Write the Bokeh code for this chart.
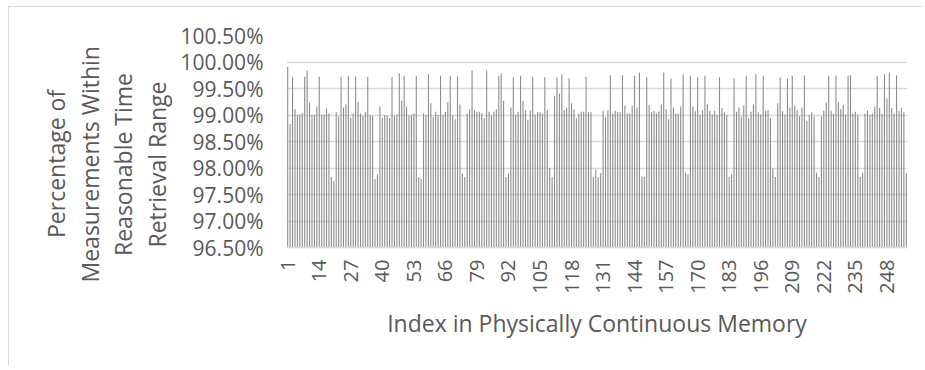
import math
from bokeh.plotting import figure
from bokeh.models import ColumnDataSource, FixedTicker, NumeralTickFormatter, Range1d, Title
from bokeh.embed import file_html
from bokeh.resources import INLINE

# Percentage of measurements within reasonable time retrieval range, per index (in %)
retrieval_pct = [
    99.91, 98.83, 99.71, 99.11, 99.00, 99.01, 99.04, 99.72, 99.84, 99.23,
    99.00, 99.01, 99.16, 99.72, 99.01, 99.01, 99.12, 99.03, 97.83, 97.75,
    99.05, 98.97, 99.72, 99.14, 99.20, 99.74, 98.95, 99.03, 99.72, 99.25,
    99.03, 98.98, 99.06, 99.72, 99.00, 98.98, 97.79, 97.88, 99.16, 98.94,
    99.00, 98.98, 98.94, 99.71, 98.98, 99.01, 99.79, 99.27, 99.74, 99.16,
    98.99, 99.00, 99.03, 99.74, 97.83, 97.80, 99.03, 99.00, 99.77, 99.22,
    98.96, 99.06, 99.00, 99.74, 99.00, 99.06, 99.24, 99.74, 99.00, 98.92,
    99.72, 99.20, 97.90, 97.83, 99.03, 99.11, 99.84, 99.09, 99.06, 99.06,
    99.04, 98.94, 99.84, 99.06, 98.99, 99.06, 99.11, 99.74, 99.79, 99.27,
    97.83, 97.90, 99.14, 99.71, 99.00, 99.06, 99.74, 99.27, 99.09, 98.91,
    99.09, 99.72, 99.01, 99.05, 99.05, 99.03, 99.71, 99.09, 98.00, 97.83,
    99.36, 99.71, 99.40, 99.77, 99.09, 99.13, 99.69, 99.22, 99.11, 98.94,
    99.03, 99.06, 99.06, 99.72, 99.05, 99.05, 97.83, 97.97, 97.83, 97.90,
    99.08, 98.96, 99.09, 99.75, 99.03, 99.08, 99.06, 99.05, 99.75, 99.18,
    99.03, 99.03, 99.18, 99.74, 99.14, 99.80, 97.84, 97.83, 99.71, 99.19,
    99.05, 99.08, 99.03, 99.06, 99.20, 99.80, 99.11, 98.92, 99.69, 99.14,
    99.03, 99.03, 99.16, 99.77, 97.91, 97.88, 99.74, 99.16, 99.07, 99.71,
    99.00, 99.09, 99.74, 99.20, 99.08, 99.01, 99.08, 99.00, 99.71, 99.13,
    99.05, 99.00, 97.83, 97.88, 99.69, 99.06, 99.14, 98.97, 99.18, 99.74,
    98.94, 99.06, 99.20, 99.77, 99.05, 99.01, 99.74, 99.08, 99.09, 98.94,
    97.99, 97.83, 99.22, 99.71, 99.07, 99.01, 99.69, 99.14, 99.74, 99.18,
    99.09, 98.98, 99.14, 99.75, 98.89, 99.00, 99.05, 98.97, 97.91, 97.83,
    98.97, 99.08, 99.24, 99.74, 99.08, 99.03, 99.75, 99.25, 99.11, 99.19,
    99.01, 99.74, 99.75, 99.03, 99.06, 99.01, 97.83, 97.91, 99.03, 99.08,
    99.00, 99.03, 99.16, 99.74, 99.13, 99.03, 99.77, 99.31, 99.80, 99.13,
    99.03, 99.75, 99.07, 99.13, 99.05, 97.90,
]
x_tick_labels = [1, 14, 27, 40, 53, 66, 79, 92, 105, 118, 131, 144, 157, 170, 183, 196, 209, 222, 235, 248]
y_ticks = [0.965, 0.970, 0.975, 0.980, 0.985, 0.990, 0.995, 1.000, 1.005]
y_title_lines = ["Percentage of", "Measurements Within", "Reasonable Time", "Retrieval Range"]
x_title = "Index in Physically Continuous Memory"

n = len(retrieval_pct)
index = list(range(1, n + 1))
source = ColumnDataSource(data=dict(x=index, top=[v / 100 for v in retrieval_pct]))

TEXT = "#595959"
GRID = "#d9d9d9"

# layout (pixels)
W, H = 914, 360
BL, BR, BT, BB = 277, 16, 28, 120

p = figure(width=W, height=H, output_backend="svg", toolbar_location=None,
           x_range=Range1d(0.5, n + 0.5),
           y_range=Range1d(y_ticks[0], y_ticks[-1]),
           min_border_left=BL, min_border_right=BR, min_border_top=BT, min_border_bottom=BB)
p.margin = (6, 0, 0, 8)
p.styles = {"border-left": "1px solid #d9d9d9", "border-top": "1px solid #d9d9d9"}

p.vbar(x="x", top="top", bottom=y_ticks[0], width=0.45, source=source,
       fill_color="#8c8c8c", line_color=None)

p.outline_line_color = None
p.xgrid.grid_line_color = None
p.ygrid.grid_line_color = GRID
p.ygrid.grid_line_width = 1.3

p.yaxis.ticker = FixedTicker(ticks=y_ticks)
p.yaxis.formatter = NumeralTickFormatter(format="0.00%")
p.yaxis.axis_line_color = None
p.yaxis.major_tick_line_color = None
p.yaxis.minor_tick_line_color = None
p.yaxis.major_label_text_font = "Open Sans"
p.yaxis.major_label_text_font_size = "21px"
p.yaxis.major_label_text_color = TEXT
p.yaxis.major_label_standoff = 17

# y title: one Title per line (innermost first). Lines are placed so that they
# share a common centre ~84px above the plot bottom, like the original.
line_len_px = [148, 237, 184, 167]          # approx. rendered length of each line
centre_above_bottom = 83.5
standoffs = [-11, 10, -11, 10]               # outer -> inner, gives the original line spacing
for line, length, so in reversed(list(zip(y_title_lines, line_len_px, standoffs))):
    p.add_layout(Title(text=line, align="left", offset=centre_above_bottom - length / 2,
                       standoff=so, text_font="Open Sans", text_font_size="23px",
                       text_font_style="normal", text_color=TEXT), "left")

p.xaxis.ticker = FixedTicker(ticks=x_tick_labels)
p.xaxis.major_label_orientation = math.pi / 2
p.xaxis.axis_line_color = GRID
p.xaxis.axis_line_width = 1.3
p.xaxis.major_tick_line_color = None
p.xaxis.minor_tick_line_color = None
p.xaxis.major_label_text_font = "Open Sans"
p.xaxis.major_label_text_font_size = "20px"
p.xaxis.major_label_text_color = TEXT
p.xaxis.major_label_standoff = 6
p.xaxis.axis_label = x_title
p.xaxis.axis_label_text_font = "Open Sans"
p.xaxis.axis_label_text_font_size = "23px"
p.xaxis.axis_label_text_font_style = "normal"
p.xaxis.axis_label_text_color = TEXT
p.xaxis.axis_label_standoff = 10

open("out.html", "w").write(file_html(p, INLINE))
